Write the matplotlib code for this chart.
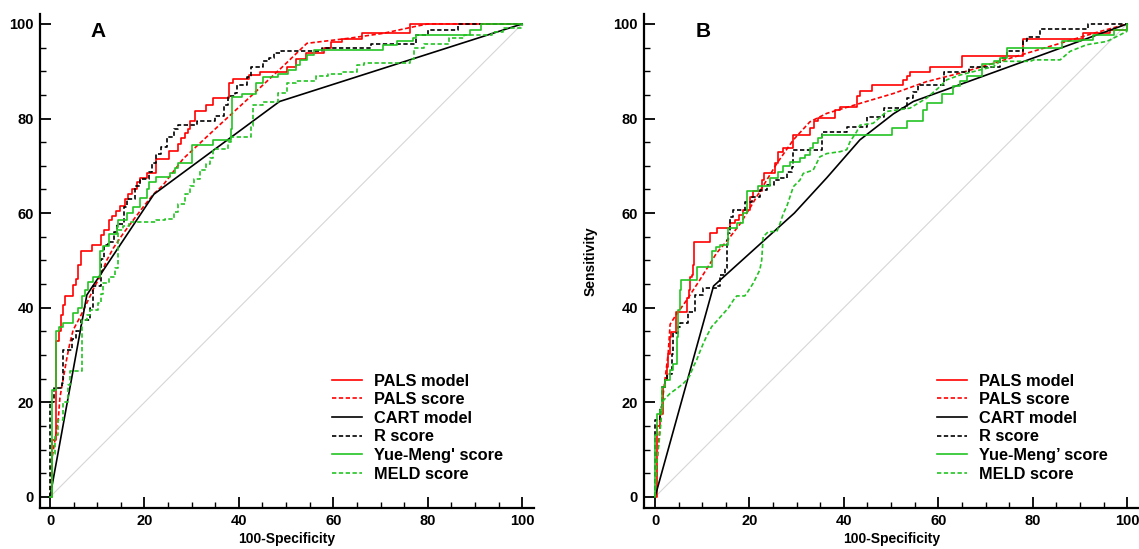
import matplotlib
matplotlib.use("Agg")
import matplotlib.pyplot as plt
from matplotlib.ticker import MultipleLocator

plt.rcParams['font.family'] = ['Liberation Sans', 'DejaVu Sans']

labels_a = ['PALS model', 'PALS score', 'CART model', 'R score', "Yue-Meng' score", 'MELD score']
labels_b = ['PALS model', 'PALS score', 'CART model', 'R score', 'Yue-Meng\u2019 score', 'MELD score']

# ---- panel A (100-specificity, sensitivity) ----
a_pals_model_x = [0, 0.5, 1.2, 1.8, 2.3, 2.7, 3.2, 4.9, 5.5, 6.0, 6.5, 8.8, 10.9, 11.4, 12.4, 13.1, 14.0, 14.8, 15.9, 16.6,
                  17.3, 18.4, 19.1, 20.5, 22.5, 25.2, 27.0, 27.8, 28.6, 29.3, 29.7, 30.8, 33.1, 34.6, 38.0, 38.8, 42.2, 44.5,
                  50.2, 52.0, 54.3, 58.1, 59.6, 61.9, 66.1, 76.3, 100]
a_pals_model_y = [0, 12, 33, 35, 38.5, 40.6, 42.5, 44.8, 46, 49, 52, 53.3, 55.4, 56.5, 58.5, 59.5, 60.5, 61.5, 63, 64,
                  65, 66.5, 67.5, 68.5, 71.4, 73.2, 74.7, 75.8, 76.9, 77.7, 79.5, 81.7, 82.8, 84.3, 87.6, 88.4, 89.1, 89.9,
                  91, 92.5, 93.9, 95, 96.2, 96.9, 98, 100, 100]

a_pals_score_x = [0, 0.4, 1.2, 1.8, 2.1, 2.8, 3.5, 4.2, 4.9, 6.4, 7.8, 9.2, 10.6, 12.0, 13.4, 15.5, 17.6, 19.8, 21.9, 24.0,
                  28.2, 35.2, 42.3, 49.3, 54.4, 63.5, 70.5, 77.5, 80.0, 100]
a_pals_score_y = [0, 8, 13, 17, 21, 25, 29, 32.5, 35.3, 38.1, 41, 44, 46.6, 50, 52.6, 55.7, 58.5, 61.4, 64, 66,
                  71.5, 78, 84.5, 91, 95.9, 97, 98, 99.5, 100, 100]

a_cart_x = [0, 7.8, 22, 48.6, 100]
a_cart_y = [0, 42.7, 64, 83.6, 100]

a_r_x = [0, 0, 0.9, 2.6, 2.8, 4.7, 5.5, 6.6, 8.5, 9.2, 10.8, 11.5, 12.3, 13.5, 14.2, 15.7, 16.4, 18.0, 19.1, 21.0,
         21.5, 22.5, 23.6, 24.8, 26.3, 27.0, 31.2, 35.0, 36.9, 37.7, 39.2, 39.5, 41.8, 42.5, 45.2, 46.4, 47.5, 49.0,
         57.7, 68.0, 77.5, 80.0, 86.5, 100]
a_r_y = [0, 20, 23, 24, 31, 33.3, 35, 37.5, 40, 44.7, 50.3, 53.3, 54, 56, 57.7, 61.4, 63, 65.8, 67.3, 68.8,
         70.5, 72.5, 74, 76.2, 77.7, 78.6, 79.5, 80.6, 82.8, 84.7, 85.4, 87, 88.8, 91, 92.1, 92.8, 93.9, 94.3,
         95, 95.8, 97.7, 98.7, 100, 100]

a_yue_x = [0, 0.5, 1.3, 1.8, 2.8, 4.9, 6.0, 6.7, 7.4, 8.1, 9.2, 10.6, 11.3, 12.4, 14.1, 14.5, 16.2, 17.6, 19.1, 20.5,
           21.0, 22.5, 25.5, 26.5, 27.0, 30.0, 34.6, 38.3, 38.6, 40.7, 43.7, 45.2, 48.3, 50.5, 52.0, 53.0, 54.5, 56.0,
           70.5, 73.4, 76.9, 77.5, 89.0, 91.2, 100]
a_yue_y = [0, 22.7, 35, 36, 36.7, 38.8, 40, 42.4, 43.8, 45.5, 46.6, 52, 53, 55.5, 57, 58.5, 60, 61.4, 63.3, 65,
           66.6, 67.7, 68.4, 69.5, 70.6, 74.5, 75.4, 77.7, 84.5, 85.2, 87.5, 88.8, 89.5, 90.2, 91.3, 92.4, 93.5, 94.5,
           95.6, 96.3, 97, 97.7, 98.7, 100, 100]

a_meld_x = [0, 0.4, 1.0, 1.7, 2.8, 3.9, 4.3, 6.8, 7.8, 8.5, 10.2, 10.9, 11.3, 12.4, 13.8, 14.5, 15.5, 16.8, 22.5, 24.4,
            26.3, 27.0, 28.6, 29.7, 30.5, 31.8, 33.1, 33.9, 34.6, 37.7, 38.4, 42.5, 43.0, 45.2, 48.3, 50.2, 52.0, 56.4,
            58.9, 61.9, 65.0, 66.4, 76.3, 77.0, 79.3, 84.6, 87.7, 91.6, 93.7, 96.0, 100]
a_meld_y = [0, 9, 13, 16.3, 20, 23.7, 26.6, 37.5, 38.5, 39.5, 41, 43, 45.2, 46.6, 48.5, 56.5, 57.2, 58.1, 58.5, 58.8,
            60.3, 62, 64, 65.8, 67.3, 69.2, 70.3, 71.7, 73.6, 75.1, 76.2, 78.4, 82.8, 83.6, 85.4, 87.5, 88, 89,
            89.5, 89.9, 91.3, 91.7, 92.5, 95, 95.8, 97, 97.6, 97.7, 98.4, 99.1, 100]

# ---- panel B ----
b_pals_model_x = [0, 0.35, 0.4, 1.06, 1.6, 1.77, 2.1, 2.5, 2.8, 3.2, 3.3, 4.4, 6.7, 7.1, 7.4, 7.8, 8.0, 8.3, 11.6, 13.1,
                  15.9, 17.0, 17.7, 18.7, 20.1, 20.8, 22.6, 23.0, 25.4, 26.0, 27.2, 29.3, 32.8, 33.6, 34.6, 38.1, 39.2,
                  42.7, 43.4, 45.9, 52.6, 53.3, 54.0, 58.3, 65.0, 77.9, 90.7, 96.4, 99.9, 100]
b_pals_model_y = [0, 9, 15, 17.6, 18.7, 23.3, 24.7, 27.5, 30.3, 33.9, 34.9, 39.2, 42, 43.8, 46.6, 47, 49, 54, 55.7, 56.8,
                  57.9, 58.6, 59.6, 60.7, 63.5, 64.6, 67, 68.4, 70.5, 73, 73.7, 76.6, 78, 79.4, 80.1, 81.8, 82.5,
                  84.7, 85.8, 87.1, 88.2, 88.9, 89.9, 91, 93.2, 96.9, 98, 98.7, 100, 100]

b_pals_score_x = [0, 0.35, 0.8, 1.4, 2.1, 2.8, 3.2, 4.2, 6.7, 9.5, 13.0, 15.7, 18.0, 20.3, 22.2, 25.8, 29.3, 32.8, 36.4,
                  43.4, 50.5, 57.5, 64.6, 71.7, 78.7, 85.8, 92.8, 100]
b_pals_score_y = [0, 6.4, 12, 19, 24.7, 30.4, 36.5, 38.1, 41.6, 45.9, 51.5, 54.7, 57.7, 61.4, 64.6, 70.5, 75.5, 79.3, 81.1,
                  83.2, 85.3, 87.8, 89.6, 91.7, 93.8, 95.9, 98, 100]

b_cart_x = [0, 12.4, 29.5, 36.4, 43.4, 50.5, 54.7, 100]
b_cart_y = [0, 44.6, 60, 67.5, 75.5, 81, 83.6, 100]

b_r_x = [0, 0, 1.06, 1.4, 2.1, 2.5, 3.5, 3.9, 4.9, 5.3, 7.0, 8.5, 10.2, 13.1, 13.8, 14.8, 15.2, 15.5, 15.9, 16.6,
         19.1, 20.5, 22.2, 23.7, 25.1, 26.5, 27.9, 29.0, 29.3, 35.3, 40.6, 44.8, 48.4, 53.3, 54.7, 55.8, 61.1, 66.4,
         73.1, 74.5, 78.0, 78.7, 81.6, 91.8, 100]
b_r_y = [0, 16.3, 19.1, 23.3, 24.7, 26.1, 30.3, 34.6, 36, 36.7, 39.2, 42.7, 44.1, 44.6, 46.9, 48.3, 54.3, 55.7, 59.2, 60.6,
         62.4, 63.5, 64.9, 66, 67, 67.4, 68.8, 69.8, 73.3, 77.2, 78.3, 80.4, 82.2, 84.3, 85.7, 87.1, 89.9, 91,
         92.8, 94.2, 96.3, 97.3, 99, 100, 100]

b_yue_x = [0, 0, 0.35, 1.06, 1.4, 2.1, 3.2, 3.9, 4.6, 4.9, 5.3, 5.6, 8.8, 12.0, 13.0, 13.8, 15.5, 17.3, 18.7, 19.4,
           21.9, 24.4, 26.1, 27.2, 28.6, 30.7, 31.8, 32.8, 33.5, 34.6, 35.3, 50.1, 53.3, 56.8, 57.5, 60.7, 63.2, 64.6,
           66.0, 69.2, 71.7, 73.1, 74.5, 86.1, 90.0, 92.8, 97.1, 100, 100]
b_yue_y = [0, 13, 17.6, 18.3, 23.3, 24.7, 26.8, 28.2, 33.9, 39.5, 43.8, 45.9, 48.7, 51.9, 52.9, 53.3, 56.8, 57.9, 60, 64.6,
           65.7, 67.4, 68.8, 69.9, 70.9, 71.6, 72.3, 73.7, 74.8, 75.8, 76.5, 78, 79.4, 81.9, 83.3, 85.1, 86.9, 87.9,
           89, 91.5, 92.2, 92.9, 94.9, 96.3, 96.6, 97.7, 98.7, 98.7, 100]

b_meld_x = [0, 0.35, 1.06, 1.4, 1.77, 3.2, 4.6, 6.0, 6.7, 7.4, 8.1, 8.8, 9.5, 10.2, 10.9, 12.0, 13.0, 14.5, 15.5, 16.6,
            17.3, 19.0, 19.4, 20.8, 21.5, 22.2, 22.6, 22.9, 24.0, 25.8, 26.5, 27.2, 27.9, 28.6, 29.3, 30.7, 31.4, 33.5,
            34.9, 36.4, 39.2, 40.6, 41.3, 42.7, 43.4, 46.2, 49.1, 54.0, 57.5, 60.4, 61.8, 64.6, 71.7, 73.1, 79.5, 80.2,
            85.8, 87.9, 91.4, 95.7, 98.5, 99.9, 100]
b_meld_y = [0, 7, 13.5, 17.6, 20.4, 21.9, 22.9, 24, 24.7, 25.7, 27.5, 28.9, 30.7, 32.4, 33.9, 36, 37.1, 38.8, 39.9, 41.6,
            42.5, 42.5, 43, 45.2, 46.6, 48, 50.1, 55, 56.1, 56.1, 57.9, 60, 61.4, 63.5, 65.6, 67, 68.4, 69.1,
            71.9, 72.6, 73, 73.4, 75.1, 77.2, 78.6, 79, 81.5, 82.2, 84.3, 86.8, 88.2, 89.2, 91, 92.1, 92.1, 92.4,
            92.4, 94.2, 95.6, 96.3, 97.7, 98.4, 100]

RED = '#ff0000'
GREEN = '#22c322'
DASH = (0, (2.6, 1.5))

fig = plt.figure(figsize=(11.39, 5.49), dpi=100)
ax_a = fig.add_axes([40 / 1139, 41 / 549, 494 / 1139, 494 / 549])
ax_b = fig.add_axes([644 / 1139, 41 / 549, 495 / 1139, 494 / 549])


def draw_panel(ax, curves, labels, letter, xmin):
    ax.plot([0, 100], [0, 100], color='#d6d6d6', lw=0.8, zorder=1)
    styles = [(RED, '-', 'step'), (RED, DASH, 'line'), ('black', '-', 'line'),
              ('black', DASH, 'step'), (GREEN, '-', 'step'), (GREEN, DASH, curves[5][2])]
    for (xs, ys, _), (col, ls, kind), lab in zip(curves, styles, labels):
        if kind == 'step':
            ax.step(xs, ys, where='post', color=col, ls=ls, lw=1.2, label=lab)
        else:
            ax.plot(xs, ys, color=col, ls=ls, lw=1.2, label=lab)

    ax.set_xlim(xmin, 102.5)
    ax.set_ylim(-2.33, 102.1)
    for s in ['top', 'right']:
        ax.spines[s].set_visible(False)
    for s in ['left', 'bottom']:
        ax.spines[s].set_linewidth(1.6)
    ax.xaxis.set_major_locator(MultipleLocator(20))
    ax.xaxis.set_minor_locator(MultipleLocator(5))
    ax.yaxis.set_major_locator(MultipleLocator(20))
    ax.yaxis.set_minor_locator(MultipleLocator(5))
    ax.tick_params(which='major', direction='in', length=8, width=1.3, labelsize=10.5, pad=4.5)
    ax.tick_params(which='minor', direction='in', length=4.5, width=1.0)
    for t in ax.get_xticklabels() + ax.get_yticklabels():
        t.set_fontweight('bold')
    ax.set_xlabel('100-Specificity', fontsize=10, fontweight='bold', labelpad=3)
    ax.text(10.2, 98.3, letter, ha='center', va='center', fontsize=15, fontweight='bold')
    ax.legend(loc='upper left', bbox_to_anchor=(59.7, 26.1), bbox_transform=ax.transData,
              frameon=False, prop={'weight': 'bold', 'size': 11.8}, handlelength=1.85,
              handletextpad=0.7, labelspacing=0.22, borderpad=0, borderaxespad=0)


draw_panel(ax_a, [(a_pals_model_x, a_pals_model_y, 'step'), (a_pals_score_x, a_pals_score_y, 'line'),
                  (a_cart_x, a_cart_y, 'line'), (a_r_x, a_r_y, 'step'), (a_yue_x, a_yue_y, 'step'),
                  (a_meld_x, a_meld_y, 'step')], labels_a, 'A', -2.12)
draw_panel(ax_b, [(b_pals_model_x, b_pals_model_y, 'step'), (b_pals_score_x, b_pals_score_y, 'line'),
                  (b_cart_x, b_cart_y, 'line'), (b_r_x, b_r_y, 'step'), (b_yue_x, b_yue_y, 'step'),
                  (b_meld_x, b_meld_y, 'line')], labels_b, 'B', -2.33)
ax_b.set_ylabel('Sensitivity', fontsize=10, fontweight='bold')
ax_b.yaxis.set_label_coords(-0.093, 0.5)

fig.savefig('out.png', dpi=100)
